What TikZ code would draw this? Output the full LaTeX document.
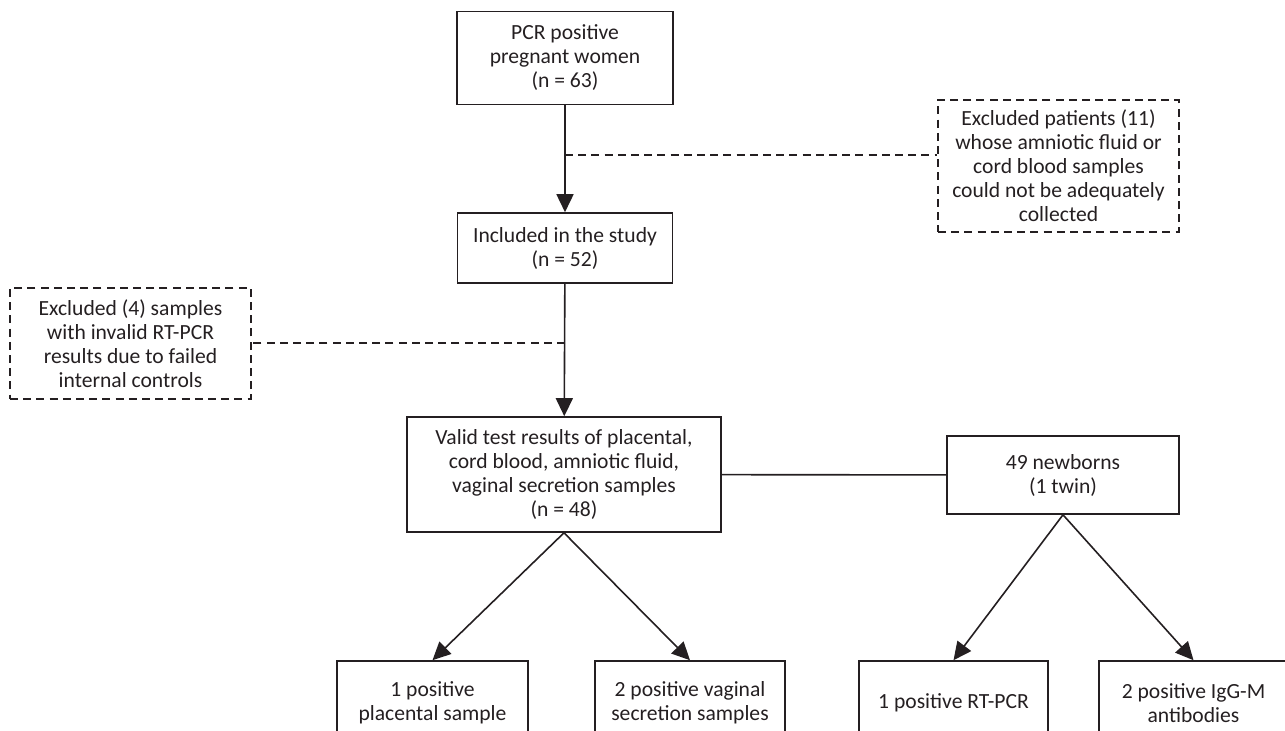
\documentclass[tikz,border=0pt]{standalone}
\usepackage{fontspec}
\setmainfont{Carlito}
\usetikzlibrary{arrows.meta}
\newlength{\du}
\setlength{\du}{0.5pt}
\definecolor{dialinecolor}{rgb}{0.14, 0.12, 0.13}
\tikzset{
  flowbox/.style={draw=dialinecolor, text=dialinecolor, line width=0.8pt, align=center, inner sep=0pt,
    font=\fontsize{10.8pt}{12pt}\selectfont},
  exclbox/.style={flowbox, dash pattern=on 4pt off 2.6pt},
  flowarrow/.style={draw=dialinecolor, line width=0.8pt, -{Triangle[length=9pt, width=8.5pt]}},
  flowline/.style={draw=dialinecolor, line width=0.8pt},
  dashline/.style={draw=dialinecolor, line width=0.8pt, dash pattern=on 4pt off 2.6pt}
}
\begin{document}
\begin{tikzpicture}[yscale=-1]
\path[use as bounding box, clip] (0\du,0\du) rectangle (1285\du,730\du);
% main column
\node[flowbox, minimum width=216\du, minimum height=93\du] (women) at (565\du,58\du)
  {PCR positive\\pregnant women\\(n = 63)};
\node[flowbox, minimum width=215\du, minimum height=70\du] (included) at (565\du,248\du)
  {Included in the study\\(n = 52)};
\node[flowbox, minimum width=314\du, minimum height=115\du] (valid) at (564\du,474.5\du)
  {Valid test results of placental,\\cord blood, amniotic fluid,\\vaginal secretion samples\\(n = 48)};
\node[flowbox, minimum width=232\du, minimum height=78\du] (newborns) at (1063\du,475\du)
  {49 newborns\\(1 twin)};
% excluded
\node[exclbox, minimum width=241\du, minimum height=132\du] (exclpat) at (1058.5\du,166\du)
  {Excluded patients (11)\\whose amniotic fluid or\\cord blood samples\\could not be adequately\\collected};
\node[exclbox, minimum width=241\du, minimum height=111\du] (exclsmp) at (130.5\du,343.5\du)
  {Excluded (4) samples\\with invalid RT-PCR\\results due to failed\\internal controls};
% results (cut at the bottom)
\node[flowbox, minimum width=191\du, minimum height=84\du] (placental) at (432.5\du,703\du)
  {1 positive\\placental sample};
\node[flowbox, minimum width=190\du, minimum height=84\du] (vaginal) at (690\du,703\du)
  {2 positive vaginal\\secretion samples};
\node[flowbox, minimum width=189\du, minimum height=84\du] (rtpcr) at (953.5\du,703\du)
  {1 positive RT-PCR};
\node[flowbox, minimum width=189\du, minimum height=84\du] (igg) at (1193.5\du,703\du)
  {2 positive IgG-M\\antibodies};
\coordinate (j1) at (565\du,155\du);
\coordinate (j2) at (565\du,343\du);
% connectors
\draw[flowarrow] (women) -- (included);
\draw[dashline] (j1) -- (j1 -| exclpat.west);
\draw[flowarrow] (included) -- (valid);
\draw[dashline] (j2) -- (j2 -| exclsmp.east);
\draw[flowline] (valid) -- (newborns);
\draw[flowarrow] (valid.south) -- (placental.north);
\draw[flowarrow] (valid.south) -- (vaginal.north);
\draw[flowarrow] (newborns.south) -- (rtpcr.north);
\draw[flowarrow] (newborns.south) -- (igg.north);
\end{tikzpicture}
\end{document}
